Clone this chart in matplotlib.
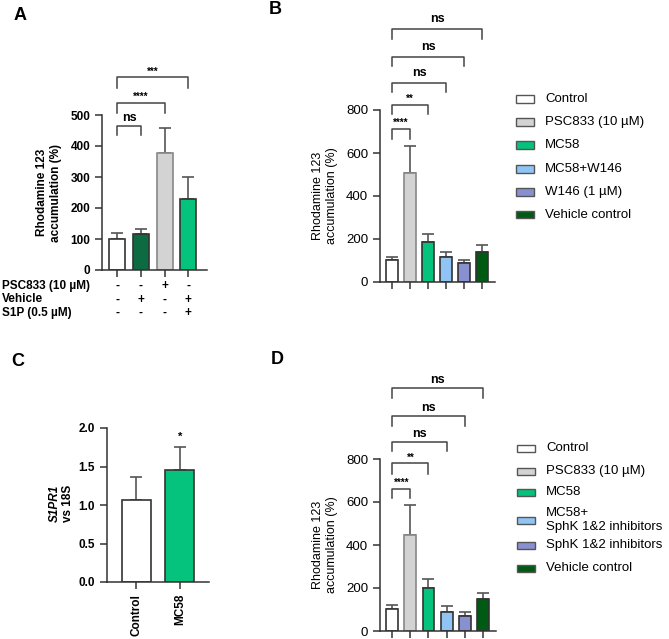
import numpy as np
import matplotlib
matplotlib.use("Agg")
import matplotlib.pyplot as plt
from matplotlib.patches import Rectangle
import matplotlib.transforms as mtransforms

plt.rcParams['font.family'] = ['Liberation Sans', 'DejaVu Sans']

W, H = 669, 639

# ---- data -------------------------------------------------------------
a_means = [100, 115, 378, 230]
a_errs = [18, 18, 79, 70]
a_colors = ['#ffffff', '#0d6b41', '#d3d3d3', '#05c27c']
a_rows = ['PSC833 (10 µM)', 'Vehicle', 'S1P (0.5 µM)']
a_signs = [['-', '-', '+', '-'],
           ['-', '+', '-', '+'],
           ['-', '-', '-', '+']]
a_brackets = [(0, 1, 'ns'), (0, 2, '****'), (0, 3, '***')]

b_labels = ['Control', 'PSC833 (10 µM)', 'MC58', 'MC58+W146', 'W146 (1 µM)', 'Vehicle control']
b_means = [104, 507, 188, 115, 88, 138]
b_errs = [14, 127, 35, 23, 13, 34]
b_colors = ['#ffffff', '#d3d3d3', '#05c27c', '#90c4f5', '#8890d0', '#005a14']
b_brackets = [(0, 1, '****'), (0, 2, '**'), (0, 3, 'ns'), (0, 4, 'ns'), (0, 5, 'ns')]

c_labels = ['Control', 'MC58']
c_means = [1.07, 1.46]
c_errs = [0.29, 0.29]
c_colors = ['#ffffff', '#05c27c']

d_labels = ['Control', 'PSC833 (10 µM)', 'MC58', 'MC58+\nSphK 1&2 inhibitors',
            'SphK 1&2 inhibitors', 'Vehicle control']
d_means = [104, 446, 202, 90, 71, 147]
d_errs = [17, 139, 42, 28, 17, 31]
d_colors = b_colors
d_brackets = [(0, 1, '****'), (0, 2, '**'), (0, 3, 'ns'), (0, 4, 'ns'), (0, 5, 'ns')]

EDGE = '#333333'
ERRC = '#555555'


def add_ax(left, right, top, bottom):
    # pixel box -> figure fraction
    return fig.add_axes([left / W, 1 - bottom / H, (right - left) / W, (bottom - top) / H])


def style(ax, fs, bold):
    for s in ['top', 'right']:
        ax.spines[s].set_visible(False)
    for s in ['left', 'bottom']:
        ax.spines[s].set_color(EDGE)
        ax.spines[s].set_linewidth(1.1)
    ax.tick_params(colors=EDGE, width=1.1, length=5, labelsize=fs, labelcolor='black')
    for t in ax.get_yticklabels():
        t.set_fontweight('bold' if bold else 'normal')


def bars(ax, means, errs, colors, width):
    x = np.arange(len(means))
    edges = [('#888888' if c == '#d3d3d3' else EDGE) for c in colors]
    ax.bar(x, means, width=width, color=colors, edgecolor=edges, linewidth=1.2, zorder=2)
    ax.errorbar(x, means, yerr=[np.zeros(len(errs)), errs], fmt='none', ecolor=ERRC,
                elinewidth=1.2, capsize=4, capthick=1.2, zorder=1)
    return x


def brackets(ax, items, tops, legs, texts):
    for (i, j, lab), top, leg, ty in zip(items, tops, legs, texts):
        ax.plot([i, i, j, j], [leg, top, top, leg], color='#444444', lw=1.1, clip_on=False)
        fs = 9 if lab == 'ns' else 7
        ax.text((i + j) / 2, ty, lab, ha='center', va='center', fontsize=fs,
                fontweight='bold', clip_on=False)


def legend(labels, colors, ys, x_patch, x_text, fs):
    for lab, c, y in zip(labels, colors, ys):
        fig.patches.append(Rectangle((x_patch / W, 1 - (y + 3.5) / H), 18 / W, 7 / H,
                                     transform=fig.transFigure, facecolor=c,
                                     edgecolor='#555555', linewidth=1.0))
        fig.text(x_text / W, 1 - y / H, lab, ha='left', va='center', fontsize=fs,
                 linespacing=1.15)


fig = plt.figure(figsize=(W / 100, H / 100), dpi=100)

# ---- panel A ----------------------------------------------------------
axA = add_ax(102, 207, 115, 270)
xA = bars(axA, a_means, a_errs, a_colors, 0.68)
axA.set_xlim(-0.65, 3.8)
axA.set_ylim(0, 500)
axA.set_yticks([0, 100, 200, 300, 400, 500])
axA.set_xticks(xA)
axA.set_xticklabels([])
style(axA, 8.5, True)
axA.set_ylabel('Rhodamine 123\naccumulation (%)', fontsize=8.5, fontweight='bold')
axA.yaxis.set_label_coords(-0.38, 0.5)
brackets(axA, a_brackets, [464, 538, 621], [435, 505, 586], [489, 557, 640])
trA = mtransforms.blended_transform_factory(axA.transData, fig.transFigure)
for r, (row, signs) in enumerate(zip(a_rows, a_signs)):
    y = 1 - (286 + 13.5 * r) / H
    fig.text(2 / W, y, row, ha='left', va='center', fontsize=8.5, fontweight='bold')
    for xi, s in zip(xA, signs):
        axA.text(xi, y, s, transform=trA, ha='center', va='center', fontsize=8.5,
                 fontweight='bold')

# ---- panel B ----------------------------------------------------------
axB = add_ax(380, 495, 110, 282)
xB = bars(axB, b_means, b_errs, b_colors, 0.65)
axB.set_xlim(-0.67, 5.72)
axB.set_ylim(0, 800)
axB.set_yticks([0, 200, 400, 600, 800])
axB.set_xticks(xB)
axB.set_xticklabels([])
style(axB, 9.5, False)
axB.set_ylabel('Rhodamine 123\naccumulation (%)', fontsize=9)
axB.yaxis.set_label_coords(-0.365, 0.5)
brackets(axB, b_brackets, [710, 825, 927, 1048, 1175], [664, 780, 882, 1005, 1132],
         [738, 854, 970, 1094, 1223])
legend(b_labels, b_colors, [99, 122, 145, 169, 192, 215], 516, 545, 9.5)

# ---- panel C ----------------------------------------------------------
axC = add_ax(107, 209, 428, 582)
xC = bars(axC, c_means, c_errs, c_colors, 0.66)
axC.set_xlim(-0.66, 1.66)
axC.set_ylim(0, 2.0)
axC.set_yticks([0, 0.5, 1.0, 1.5, 2.0])
axC.set_yticklabels(['0.0', '0.5', '1.0', '1.5', '2.0'])
axC.set_xticks(xC)
axC.set_xticklabels(c_labels, rotation=90, fontsize=8.5, fontweight='bold')
style(axC, 8.5, True)
axC.text(-0.515, 0.513, 'S1PR1', transform=axC.transAxes, rotation=90, ha='center',
         va='center', fontsize=8.5, fontweight='bold', fontstyle='italic')
axC.text(-0.385, 0.513, 'vs 18S', transform=axC.transAxes, rotation=90, ha='center',
         va='center', fontsize=8.5, fontweight='bold')
axC.text(1, 1.89, '*', ha='center', va='center', fontsize=8, fontweight='bold')

# ---- panel D ----------------------------------------------------------
axD = add_ax(380, 496, 459, 631)
xD = bars(axD, d_means, d_errs, d_colors, 0.65)
axD.set_xlim(-0.67, 5.72)
axD.set_ylim(0, 800)
axD.set_yticks([0, 200, 400, 600, 800])
axD.set_xticks(xD)
axD.set_xticklabels([])
style(axD, 9.5, False)
axD.set_ylabel('Rhodamine 123\naccumulation (%)', fontsize=9)
axD.yaxis.set_label_coords(-0.365, 0.5)
brackets(axD, d_brackets, [661, 781, 880, 998, 1129], [618, 731, 835, 952, 1084],
         [688, 807, 916, 1037, 1169])
legend(d_labels, d_colors, [448, 471, 492, 520, 545, 568], 517, 546, 9.5)

# ---- panel letters ----------------------------------------------------
for lab, x, y in [('A', 20, 15), ('B', 275, 10), ('C', 18, 362), ('D', 277, 360)]:
    fig.text(x / W, 1 - y / H, lab, ha='center', va='center', fontsize=13, fontweight='bold')

fig.savefig('out.png', dpi=100)
